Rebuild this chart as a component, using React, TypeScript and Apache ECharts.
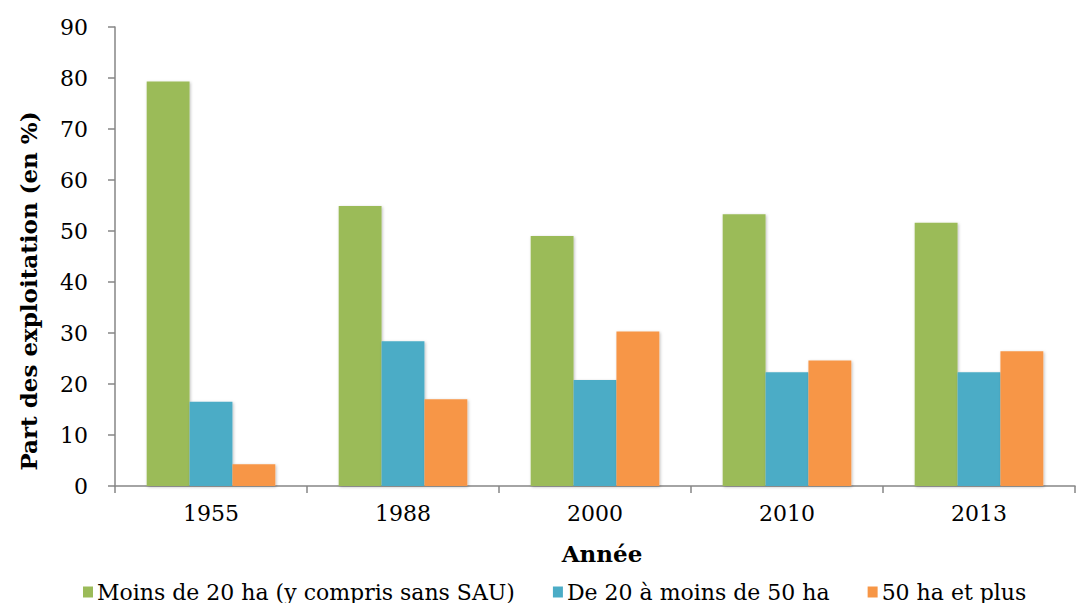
import React, { useEffect, useRef } from "react";
import * as echarts from "echarts";

const categories = ["1955", "1988", "2000", "2010", "2013"];
const seriesNames = ["Moins de 20 ha (y compris sans SAU)", "De 20 à moins de 50 ha", "50 ha et plus"];
const small = [79.3, 54.9, 49.0, 53.3, 51.6];
const medium = [16.5, 28.4, 20.8, 22.3, 22.3];
const large = [4.25, 17.0, 30.3, 24.6, 26.4];
const colors = ["#9BBB59", "#4BACC6", "#F79646"];

const FONT = "DejaVu Serif";

export default function App() {
  const ref = useRef<HTMLDivElement>(null);
  useEffect(() => {
    if (!ref.current) return;
    const chart = echarts.init(ref.current, null, { renderer: "svg" });
    const values = [small, medium, large];
    chart.setOption({
      animation: false,
      grid: { left: 115, right: 3, top: 27, bottom: 117, containLabel: false },
      legend: {
        left: 78,
        top: 576,
        itemWidth: 10,
        itemHeight: 11,
        itemGap: 38,
        icon: "rect",
        textStyle: { fontFamily: FONT, fontSize: 22, color: "#000", padding: [0, 0, 0, -1] },
        data: seriesNames,
      },
      xAxis: {
        type: "category",
        data: categories,
        axisLine: { lineStyle: { color: "#868686", width: 1.5 } },
        axisTick: { show: true, length: 7, lineStyle: { color: "#868686", width: 1.5 } },
        axisLabel: { fontFamily: FONT, fontSize: 22, color: "#000", margin: 16 },
        splitLine: { show: false },
      },
      yAxis: {
        type: "value",
        min: 0,
        max: 90,
        interval: 10,
        axisLine: { show: true, lineStyle: { color: "#868686", width: 1.5 } },
        axisTick: { show: true, length: 7, lineStyle: { color: "#868686", width: 1.5 } },
        axisLabel: { fontFamily: FONT, fontSize: 22, color: "#000", margin: 27 },
        splitLine: { show: false },
      },
      graphic: [
        {
          type: "text",
          x: 28,
          y: 291,
          rotation: Math.PI / 2,
          style: {
            text: "Part des exploitation (en %)",
            fontFamily: FONT,
            fontSize: 23,
            fontWeight: "bold",
            fill: "#000",
            align: "center",
            verticalAlign: "middle",
          },
        },
        {
          type: "text",
          x: 602,
          y: 553,
          style: {
            text: "Année",
            fontFamily: FONT,
            fontSize: 23,
            fontWeight: "bold",
            fill: "#000",
            align: "center",
            verticalAlign: "middle",
          },
        },
      ],
      series: seriesNames.map((name, i) => ({
        name,
        type: "bar",
        data: values[i],
        barGap: "0%",
        barCategoryGap: "33%",
        itemStyle: {
          color: colors[i],
          shadowColor: "rgba(0,0,0,0.25)",
          shadowBlur: 3,
          shadowOffsetX: 1,
          shadowOffsetY: 1,
        },
      })),
    });
    return () => chart.dispose();
  }, []);
  return <div ref={ref} style={{ width: 1078, height: 603, position: "absolute", left: 0, top: 0 }} />;
}
